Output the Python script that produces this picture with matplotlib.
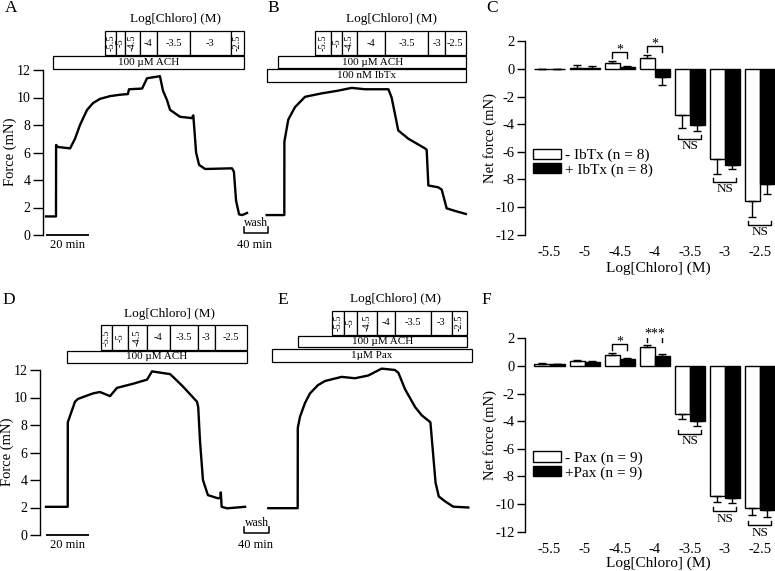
import numpy as np
import matplotlib
matplotlib.use('Agg')
import matplotlib.pyplot as plt
from matplotlib.patches import Rectangle
from matplotlib.transforms import blended_transform_factory

plt.rcParams['font.family'] = 'serif'
plt.rcParams['font.serif'] = ['Liberation Serif', 'DejaVu Serif']
plt.rcParams['axes.unicode_minus'] = False

# ---------------- data ----------------
conc = ['-5.5', '-5', '-4.5', '-4', '-3.5', '-3', '-2.5']

# force traces: time (min) / force (mN)
a_time = [0, 4.65, 4.7, 5.6, 11.2, 13.5, 15.8, 19.1, 21.9, 25.1, 29.8, 34.4, 38.1, 38.6,
          44.7, 47.0, 53.0, 54.4, 56.3, 57.7, 62.3, 67.8, 68.5, 69.1, 69.8, 71.2, 74.0,
          86.5, 87.4, 88.4, 89.8, 91.2, 93.5]
a_force = [1.35, 1.35, 6.55, 6.4, 6.3, 7.0, 8.0, 9.1, 9.6, 9.9, 10.1, 10.2, 10.25, 10.6,
           10.65, 11.4, 11.55, 10.5, 9.8, 9.1, 8.6, 8.5, 8.7, 7.5, 6.0, 5.1, 4.8,
           4.85, 4.6, 2.5, 1.5, 1.45, 1.6]

b_time = [0, 8.19, 8.23, 10.05, 13.16, 16.28, 17.81, 25.58, 33.3, 39.5, 45.7, 56.6, 58.1,
          61.2, 65.9, 73.6, 74.4, 75.2, 79.8, 81.4, 83.7, 87.6, 92.6]
b_force = [1.45, 1.45, 6.8, 8.4, 9.3, 9.8, 10.05, 10.3, 10.5, 10.7, 10.6, 10.6, 10.0,
           7.6, 7.0, 6.3, 6.2, 3.6, 3.47, 3.3, 1.94, 1.75, 1.53]

d_time = [0, 10.1, 10.14, 13.5, 14.9, 21.9, 25.1, 29.8, 33.0, 40.5, 47.0, 49.3, 57.7,
          59.1, 63.7, 68.4, 70.2, 70.8, 71.6, 73.0, 75.3, 80.0, 81.2, 81.3, 81.7, 84.2, 92.6]
d_force = [2.05, 2.05, 8.2, 9.7, 9.9, 10.3, 10.4, 10.1, 10.7, 11.0, 11.3, 11.9, 11.7,
           11.5, 10.8, 10.0, 9.7, 9.3, 6.9, 4.0, 2.9, 2.67, 2.7, 3.1, 2.05, 1.94, 2.05]

e_time = [0, 13.67, 13.72, 14.74, 17.07, 19.4, 23.1, 26.4, 34.1, 40.3, 46.5, 52.7, 58.9,
          60.5, 63.6, 68.3, 71.4, 75.4, 77.8, 79.3, 82.2, 86.0, 93.0]
e_force = [1.95, 1.95, 7.8, 8.6, 9.6, 10.3, 10.9, 11.2, 11.5, 11.4, 11.6, 12.1, 12.0,
           11.8, 10.6, 9.3, 8.7, 8.2, 3.8, 2.8, 2.45, 2.06, 2.0]

# times at which each chloroquine concentration was applied (last = end)
a_steps = [27.6, 32.6, 36.7, 43.7, 51.5, 67.0, 85.9, 92.1]
b_steps = [22.5, 29.9, 35.2, 41.9, 55.0, 75.2, 82.7, 92.7]
d_steps = [25.4, 30.6, 38.3, 46.8, 57.7, 70.6, 78.6, 93.4]
e_steps = [29.5, 35.3, 41.1, 50.4, 58.9, 75.5, 85.3, 92.6]
a_ach = (3.4, 92.1)
b_ach = (5.4, 92.7)
b_ibtx = (0.3, 92.7)
d_ach = (9.6, 93.4)
e_ach = (13.7, 92.6)
e_pax = (1.6, 94.9)

# net force (mN), mean and SEM
c_ctrl = [0, 0.1, 0.41, 0.82, -3.35, -6.5, -9.58]
c_ctrl_err = [0, 0.17, 0.17, 0.2, 0.9, 1.1, 1.16]
c_ibtx = [0, 0.05, 0.17, -0.6, -4.07, -6.98, -8.36]
c_ibtx_err = [0, 0.15, 0.08, 0.56, 0.44, 0.3, 0.73]
c_sig = ['', '', '*', '*', 'NS', 'NS', 'NS']

f_ctrl = [0.14, 0.36, 0.8, 1.35, -3.48, -9.4, -10.3]
f_ctrl_err = [0.04, 0.04, 0.16, 0.17, 0.38, 0.43, 0.5]
f_pax = [0.12, 0.3, 0.5, 0.75, -3.96, -9.54, -10.43]
f_pax_err = [0.04, 0.04, 0.1, 0.1, 0.39, 0.41, 0.53]
f_sig = ['', '', '*', '***', 'NS', 'NS', 'NS']

# ---------------- layout helpers ----------------
W, H = 775, 571
fig = plt.figure(figsize=(W / 100, H / 100), dpi=100)


def px_axes(l, t, r, b):
    ax = fig.add_axes([l / W, 1 - b / H, (r - l) / W, (b - t) / H])
    ax.patch.set_visible(False)
    return ax


def fy(py):
    return 1 - py / H


def ftext(x, y, s, **kw):
    fig.text(x / W, fy(y), s, ha=kw.pop('ha', 'center'), va=kw.pop('va', 'center'), **kw)


def trace_panel(l, r, t, b, time, force, t0, yaxis):
    ax = px_axes(l, t, r, b)
    px_per_min = 2.15
    ax.set_xlim((l - t0) / px_per_min, (r - t0) / px_per_min)
    ax.set_ylim(0, 12)
    ax.plot(time, force, color='black', lw=1.7, solid_joinstyle='round', clip_on=False)
    for s in ['top', 'right', 'bottom']:
        ax.spines[s].set_visible(False)
    ax.set_xticks([])
    if yaxis:
        ax.spines['left'].set_linewidth(1.0)
        ax.set_yticks(range(0, 13, 2))
        ax.tick_params(axis='y', length=7.5, width=1.0, pad=1.5, labelsize=10)
    else:
        ax.spines['left'].set_visible(False)
        ax.set_yticks([])
    return ax


def conc_row(ax, steps, rotated, top, bottom):
    tr = blended_transform_factory(ax.transData, fig.transFigure)
    for i, lab in enumerate(conc):
        x0, x1 = steps[i], steps[i + 1]
        ax.add_patch(Rectangle((x0, fy(bottom)), x1 - x0, fy(top) - fy(bottom), transform=tr,
                               fc='white', ec='black', lw=0.9, clip_on=False))
        ax.text((x0 + x1) / 2, fy((top + bottom) / 2), lab, transform=tr, ha='center',
                va='center', rotation=90 if i in rotated else 0, fontsize=7.5)


def band(ax, span, label, top, bottom):
    tr = blended_transform_factory(ax.transData, fig.transFigure)
    ax.add_patch(Rectangle((span[0], fy(bottom)), span[1] - span[0], fy(top) - fy(bottom),
                           transform=tr, fc='white', ec='black', lw=0.9, clip_on=False))
    ax.text((span[0] + span[1]) / 2, fy((top + bottom) / 2), label, transform=tr,
            ha='center', va='center', fontsize=8)


def scale_marks(ax, zero_py, wash_x0, wash_x1):
    tr = blended_transform_factory(ax.transData, fig.transFigure)
    ax.plot([0, 20], [0, 0], color='black', lw=1.3, clip_on=False, solid_capstyle='butt')
    ax.text(10, fy(zero_py + 10), '20 min', transform=tr, ha='center', va='center', fontsize=9)
    yb, yt = fy(zero_py - 2), fy(zero_py - 8)
    ax.plot([wash_x0, wash_x0, wash_x1, wash_x1], [yt, yb, yb, yt], transform=tr,
            color='black', lw=1.1, clip_on=False)
    xm = (wash_x0 + wash_x1) / 2
    ax.text(xm, fy(zero_py - 11.5), 'wash', transform=tr, ha='center', va='center', fontsize=8.5)
    ax.text(xm - 0.5, fy(zero_py + 10), '40 min', transform=tr, ha='center', va='center', fontsize=9)


def bar_panel(l, r, t, b, ctrl, ctrl_err, treat, treat_err, sig, labels, legend_top):
    ax = px_axes(l, t, r, b)
    x = np.arange(len(conc))
    w = 0.43
    b1 = ax.bar(x - w / 2, ctrl, w, color='white', edgecolor='black', lw=1.0)
    b2 = ax.bar(x + w / 2, treat, w, color='black', edgecolor='black', lw=1.0)
    for pos, vals, errs in [(x - w / 2, ctrl, ctrl_err), (x + w / 2, treat, treat_err)]:
        lo = [e if v < 0 else 0 for v, e in zip(vals, errs)]
        hi = [e if v >= 0 else 0 for v, e in zip(vals, errs)]
        ax.errorbar(pos, vals, yerr=[lo, hi], fmt='none', ecolor='black', elinewidth=1.0,
                    capsize=3, capthick=1.0)
    for i, s in enumerate(sig):
        if not s:
            continue
        if s == 'NS':
            low = min(ctrl[i] - ctrl_err[i], treat[i] - treat_err[i])
            ytop = low - 0.27
            ybot = ytop - 0.3
            ax.plot([i - 0.33, i - 0.33, i + 0.33, i + 0.33], [ytop, ybot, ybot, ytop],
                    color='black', lw=1.0, clip_on=False)
            ax.text(i, ybot - 0.1, s, ha='center', va='top', fontsize=9.5)
        else:
            high = max(ctrl[i] + ctrl_err[i], treat[i] + treat_err[i])
            ybot = high + 0.2
            ytop = ybot + 0.45
            ax.plot([i - w / 2, i - w / 2, i + w / 2, i + w / 2], [ybot, ytop, ytop, ybot],
                    color='black', lw=1.0)
            ax.text(i, ytop - 0.1, s, ha='center', va='baseline', fontsize=10)
    ax.set_xlim(-0.70, 6.43)
    ax.set_ylim(-12, 2)
    ax.set_yticks(range(-12, 3, 2))
    ax.set_xticks(x)
    ax.set_xticklabels(conc)
    ax.tick_params(axis='x', length=0, pad=8, labelsize=10.5)
    ax.tick_params(axis='y', length=6, width=1.0, pad=1.5, labelsize=10.5)
    for s in ['top', 'right', 'bottom']:
        ax.spines[s].set_visible(False)
    ax.spines['left'].set_linewidth(1.0)
    ax.legend([b1, b2], labels, loc='upper left', bbox_to_anchor=(533 / W, fy(legend_top)),
              bbox_transform=fig.transFigure, frameon=False, fontsize=11, borderpad=0,
              borderaxespad=0, handlelength=1.85, handleheight=0.65, handletextpad=0.25,
              labelspacing=0.05)
    return ax


# ---------------- panel A ----------------
axA = trace_panel(43, 248, 70, 235, a_time, a_force, 46, True)
conc_row(axA, a_steps, [0, 1, 2, 6], 31, 55)
band(axA, a_ach, '100 µM ACH', 56, 69.3)
scale_marks(axA, 235, 92.1, 103.3)
ftext(175, 19, 'Log[Chloro] (M)', fontsize=9.5)
ftext(10, 152, 'Force (mN)', rotation=90, fontsize=10.5)

# ---------------- panel B ----------------
axB = trace_panel(262, 472, 70, 235, b_time, b_force, 266.7, False)
conc_row(axB, b_steps, [0, 1, 2], 31, 55)
band(axB, b_ach, '100 µM ACH', 56, 68.3)
band(axB, b_ibtx, '100 nM IbTx', 69.3, 81.7)
ftext(391.7, 19, 'Log[Chloro] (M)', fontsize=9.5)

# ---------------- panel D ----------------
axD = trace_panel(40, 248, 370, 535, d_time, d_force, 46, True)
conc_row(axD, d_steps, [0, 1, 2], 325, 350)
band(axD, d_ach, '100 µM ACH', 350.7, 362.7)
scale_marks(axD, 535, 92.1, 103.7)
ftext(170, 314, 'Log[Chloro] (M)', fontsize=9.5)
ftext(7.5, 452, 'Force (mN)', rotation=90, fontsize=10.5)

# ---------------- panel E ----------------
axE = trace_panel(262, 472, 370, 535, e_time, e_force, 268.3, False)
conc_row(axE, e_steps, [0, 1, 2, 6], 310.7, 335)
band(axE, e_ach, '100 µM ACH', 336, 347.3)
band(axE, e_pax, '1µM Pax', 348.7, 361.7)
ftext(395, 299.3, 'Log[Chloro] (M)', fontsize=9.5)

# ---------------- panel C / F ----------------
bar_panel(525, 775, 41.5, 234.5, c_ctrl, c_ctrl_err, c_ibtx, c_ibtx_err, c_sig,
          ['- IbTx (n = 8)', '+ IbTx (n = 8)'], 148.5)
ftext(490, 138, 'Net force (mN)', rotation=90, fontsize=10.5)
ftext(658, 268, 'Log[Chloro] (M)', fontsize=11)

bar_panel(525, 775, 338.3, 531.7, f_ctrl, f_ctrl_err, f_pax, f_pax_err, f_sig,
          ['- Pax (n = 9)', '+Pax (n = 9)'], 451.5)
ftext(490, 435, 'Net force (mN)', rotation=90, fontsize=10.5)
ftext(658, 563, 'Log[Chloro] (M)', fontsize=11)

# panel letters
for letter, x, y in [('A', 11, 8.5), ('B', 273, 8), ('C', 492, 8),
                     ('D', 9, 299.5), ('E', 283, 300), ('F', 486, 300)]:
    ftext(x, y, letter, fontsize=12.5)

fig.savefig('out.png', dpi=100)
